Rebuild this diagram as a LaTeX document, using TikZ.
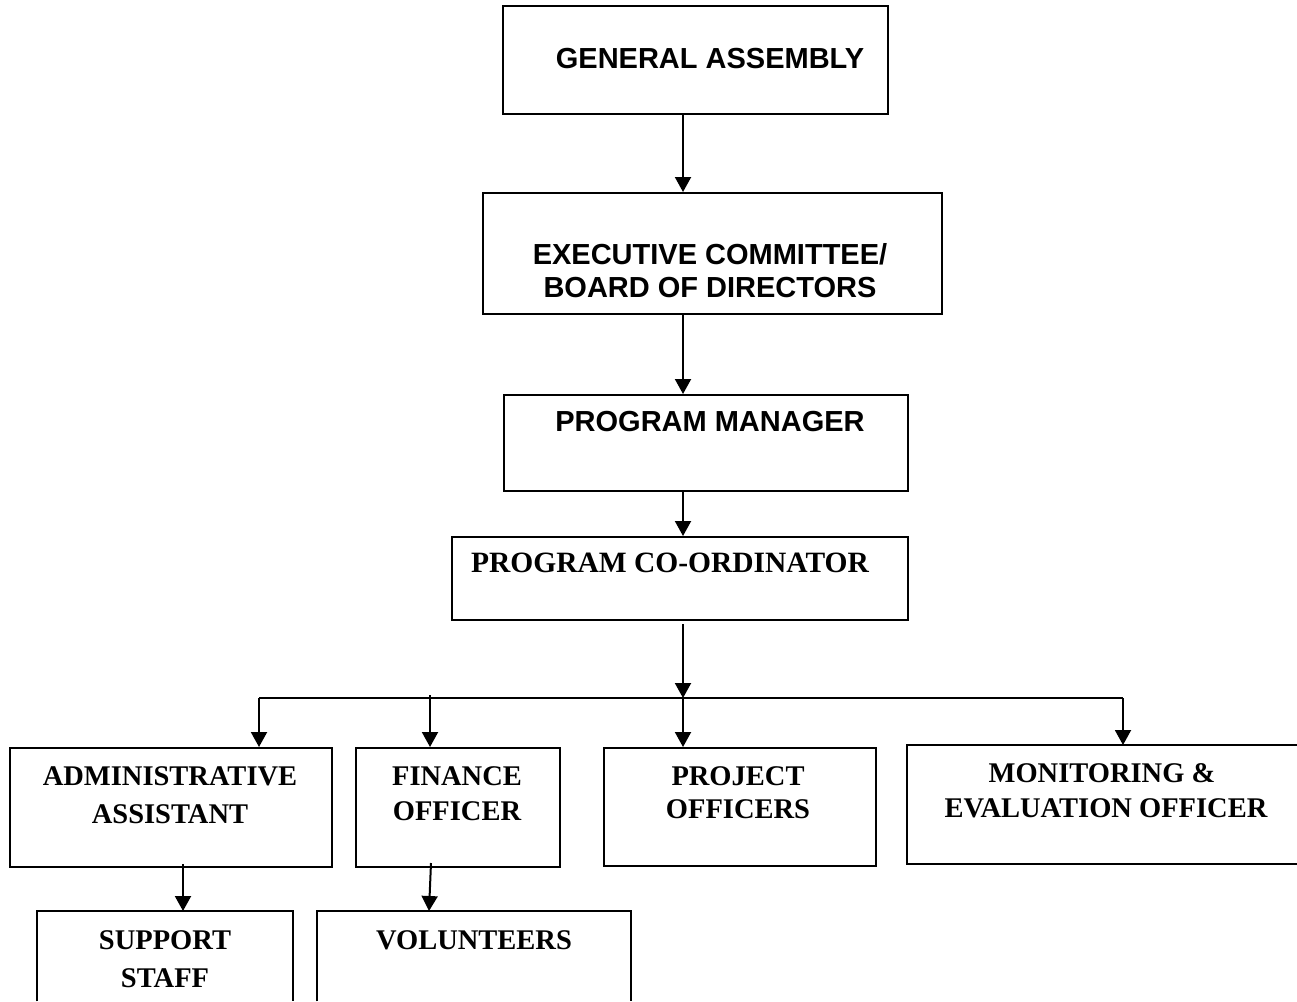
\documentclass[tikz,border=0pt]{standalone}
\usepackage{fontspec}
\setmainfont{Liberation Serif}
\newfontfamily\arialf{Liberation Sans}
\usetikzlibrary{arrows.meta}
\begin{document}
\begin{tikzpicture}[x=1pt,y=-1pt,
  lw/.style={line width=2pt},
  box/.style={draw, lw, inner sep=0pt, anchor=north west},
  openbox/.style={inner sep=0pt, anchor=north west},
  arr/.style={lw, -{Triangle[width=16pt,length=15pt]}},
  sanslbl/.style={inner sep=0pt, anchor=base, font=\arialf\bfseries\fontsize{29}{33}\selectfont},
  seriflbl/.style={inner sep=0pt, anchor=base, font=\bfseries\fontsize{28.5}{34}\selectfont},
]
\useasboundingbox (0,0) rectangle (1297,1001);
% boxes
\node[box, minimum width=385pt, minimum height=108pt] (ga) at (502,5) {};
\node[box, minimum width=459pt, minimum height=121pt] (ex) at (482,192) {};
\node[box, minimum width=404pt, minimum height=96pt] (pm) at (503,394) {};
\node[box, minimum width=456pt, minimum height=83pt] (pc) at (451,536) {};
\node[box, minimum width=322pt, minimum height=119pt] (ad) at (9,747) {};
\node[box, minimum width=204pt, minimum height=119pt] (fi) at (355,747) {};
\node[box, minimum width=272pt, minimum height=118pt] (pr) at (603,747) {};
\node[openbox, minimum width=390pt, minimum height=119pt] (me) at (907,745) {};
\node[openbox, minimum width=256pt, minimum height=90pt] (ss) at (37,911) {};
\node[openbox, minimum width=314pt, minimum height=90pt] (vo) at (317,911) {};
\draw[lw] (me.north east) -- (me.north west) -- (me.south west) -- (me.south east);
\draw[lw] (ss.south west) -- (ss.north west) -- (ss.north east) -- (ss.south east);
\draw[lw] (vo.south west) -- (vo.north west) -- (vo.north east) -- (vo.south east);
% labels
\node[sanslbl] (tga) at (710,68) {GENERAL ASSEMBLY};
\node[sanslbl] (tex1) at (710,264) {EXECUTIVE COMMITTEE/};
\node[sanslbl] (tex2) at (710,297) {BOARD OF DIRECTORS};
\node[sanslbl] (tpm) at (710,431) {PROGRAM MANAGER};
\node[seriflbl, font=\bfseries\fontsize{29.5}{34}\selectfont] (tpc) at (670,572) {PROGRAM CO-ORDINATOR};
\node[seriflbl] (tad1) at (170,785) {ADMINISTRATIVE};
\node[seriflbl] (tad2) at (170,823) {ASSISTANT};
\node[seriflbl] (tfi1) at (457,785) {FINANCE};
\node[seriflbl] (tfi2) at (457,820) {OFFICER};
\node[seriflbl] (tpr1) at (738,785) {PROJECT};
\node[seriflbl] (tpr2) at (738,818) {OFFICERS};
\node[seriflbl] (tme1) at (1102,782) {MONITORING \&};
\node[seriflbl] (tme2) at (1106,817) {EVALUATION OFFICER};
\node[seriflbl] (tss1) at (165,949) {SUPPORT};
\node[seriflbl] (tss2) at (165,987) {STAFF};
\node[seriflbl] (tvo) at (474,949) {VOLUNTEERS};
% connector coordinates
\coordinate (xm) at (683,0);
\coordinate (busL) at (259,698);
\coordinate (busM) at (683,698);
\coordinate (busR) at (1123,698);
\coordinate (fiTop) at (430,695);
\coordinate (pcOut) at (683,624);
\coordinate (adOut) at (183,864);
\coordinate (fiOut) at (431,863);
\coordinate (voIn) at (429,911);
% connectors
\draw[arr] (ga.south -| xm) -- (ex.north -| xm);
\draw[arr] (ex.south -| xm) -- (pm.north -| xm);
\draw[arr] (pm.south -| xm) -- (pc.north -| xm);
\draw[arr] (pcOut) -- (busM);
\draw[lw] (busL) -- (busR);
\draw[arr] (busL) -- (ad.north -| busL);
\draw[arr] (fiTop) -- (fi.north -| fiTop);
\draw[arr] (busM) -- (pr.north -| busM);
\draw[arr] (busR) -- (me.north -| busR);
\draw[arr] (adOut) -- (ss.north -| adOut);
\draw[arr] (fiOut) -- (voIn);
\end{tikzpicture}
\end{document}
